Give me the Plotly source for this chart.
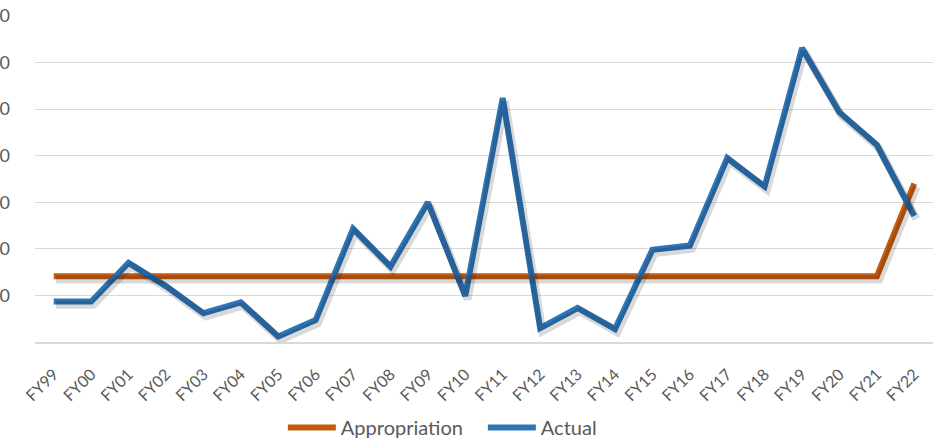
import plotly.graph_objects as go

# Fiscal years on the category axis
years = ["FY99", "FY00", "FY01", "FY02", "FY03", "FY04", "FY05", "FY06",
         "FY07", "FY08", "FY09", "FY10", "FY11", "FY12", "FY13", "FY14",
         "FY15", "FY16", "FY17", "FY18", "FY19", "FY20", "FY21", "FY22"]

# Annual appropriation and actual spending
appropriation = [141, 141, 141, 141, 141, 141, 141, 141, 141, 141, 141, 141,
                 141, 141, 141, 141, 141, 141, 141, 141, 141, 141, 141, 340]
actual = [87, 87, 170, 120, 62, 85, 12, 47, 243, 162, 300, 99,
          524, 30, 73, 28, 198, 207, 395, 334, 631, 493, 423, 271]

# Value-axis ticks (accounting style, zero shown as a dash)
tick_vals = [0, 100, 200, 300, 400, 500, 600, 700]
tick_text = ["$ -\u2007", "$100", "$200", "$300", "$400", "$500", "$600", "$700"]

ORANGE = "#C55A11"
BLUE = "#2E75B6"
FONT = "Lato, 'Liberation Sans', Arial, sans-serif"

x_range = [-0.5, len(years) - 0.5]
y_range = [0, 700]

# soft drop shadow: same series on overlaid axes nudged right/down
sx = 0.06
sy = 7

fig = go.Figure()

for series in (appropriation, actual):
    fig.add_trace(go.Scatter(
        x=list(range(len(years))), y=series, mode="lines",
        line=dict(color="rgba(0,0,0,0.15)", width=8),
        xaxis="x2", yaxis="y2", showlegend=False, hoverinfo="skip"))

fig.add_trace(go.Scatter(
    x=list(range(len(years))), y=appropriation, mode="lines", name="Appropriation",
    line=dict(color=ORANGE, width=6)))
fig.add_trace(go.Scatter(
    x=list(range(len(years))), y=actual, mode="lines", name="Actual",
    line=dict(color=BLUE, width=6)))

fig.update_layout(
    width=938, height=439,
    margin=dict(l=35, r=5, t=16, b=97, autoexpand=False),
    paper_bgcolor="white", plot_bgcolor="white",
    font=dict(family=FONT, color="#595959", size=17),
    xaxis=dict(
        range=x_range, tickmode="array",
        tickvals=list(range(len(years))), ticktext=years,
        tickangle=-45, showgrid=False, zeroline=False,
        showline=True, linecolor="#D9D9D9", linewidth=1.5,
        ticks="", ticklabelstandoff=15,
        tickfont=dict(size=16, color="#595959"),
        automargin=False,
    ),
    yaxis=dict(
        range=y_range, tickmode="array", tickvals=tick_vals, ticktext=tick_text,
        showgrid=True, gridcolor="#D9D9D9", gridwidth=1.2,
        zeroline=False, showline=False, ticks="",
        ticklabelstandoff=24, tickfont=dict(size=18, color="#595959"),
        automargin=False,
    ),
    xaxis2=dict(range=[x_range[0] - sx, x_range[1] - sx], overlaying="x",
                visible=False, fixedrange=True),
    yaxis2=dict(range=[y_range[0] + sy, y_range[1] + sy], overlaying="y",
                visible=False, fixedrange=True),
    legend=dict(
        orientation="h", x=0.276, xanchor="left", y=-0.262, yanchor="middle",
        font=dict(size=20, color="#595959"), bgcolor="rgba(0,0,0,0)",
        itemwidth=48, tracegroupgap=0,
        entrywidth=137, entrywidthmode="pixels",
    ),
    showlegend=True,
)

fig.write_html("out.html")
